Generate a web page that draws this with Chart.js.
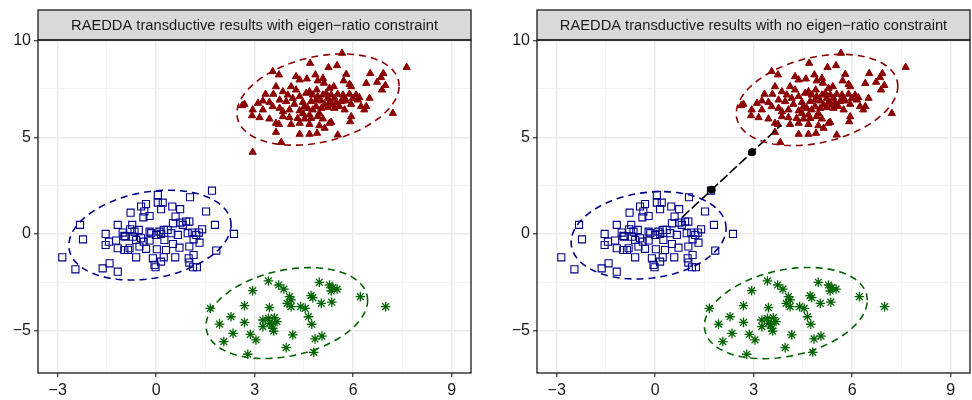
<!DOCTYPE html>
<html>
<head>
<meta charset="utf-8">
<script src="https://cdn.jsdelivr.net/npm/chart.js@4.4.1/dist/chart.umd.min.js"></script>
<style>
  body { margin: 0; background: #fff; }
  #wrap { position: relative; width: 972px; height: 400px; }
  canvas { position: absolute; top: 0; }
</style>
</head>
<body>
<div id="wrap">
  <canvas id="c1" style="left:0" width="486" height="400"></canvas>
  <canvas id="c2" style="left:486px" width="486" height="400"></canvas>
</div>
<script>
// class 1 (red triangles)
const redPts = [[5.66,9.35],[4.69,8.83],[5.25,8.61],[5.51,8.71],[7.63,8.62],[3.55,8.40],[3.74,8.23],[5.79,8.26],[6.52,8.30],[6.92,8.30],[6.85,8.09],[6.73,7.85],[4.37,7.97],[4.59,8.02],[4.85,8.23],[4.92,7.92],[5.11,7.80],[5.71,7.92],[5.89,7.74],[6.40,7.79],[6.98,7.68],[6.88,7.45],[3.65,7.62],[4.11,7.62],[4.26,7.45],[4.67,7.36],[4.89,7.45],[5.28,7.54],[5.41,7.62],[5.94,7.62],[3.33,7.23],[3.57,7.23],[3.86,7.36],[4.01,7.19],[4.37,7.11],[4.57,7.28],[4.77,7.19],[5.08,7.19],[5.18,7.28],[5.33,7.19],[5.53,7.23],[5.69,7.19],[5.89,7.23],[6.09,7.19],[6.19,7.05],[6.50,7.02],[2.69,6.71],[2.62,6.64],[3.10,6.76],[3.45,6.81],[3.76,6.93],[3.96,6.85],[4.21,6.71],[4.47,6.81],[4.72,6.85],[4.87,6.93],[5.03,6.88],[5.28,6.81],[5.48,6.76],[5.63,6.85],[5.79,6.88],[5.94,6.71],[6.24,6.59],[6.40,6.59],[2.94,6.42],[3.25,6.42],[3.76,6.50],[4.06,6.42],[4.37,6.37],[4.62,6.50],[4.77,6.42],[5.03,6.50],[5.23,6.54],[5.43,6.50],[5.74,6.42],[7.21,6.24],[2.92,6.12],[3.15,6.02],[3.45,5.95],[3.86,6.07],[4.06,6.02],[4.31,5.98],[4.52,5.95],[4.72,5.98],[4.92,6.07],[5.08,5.95],[5.33,5.78],[5.94,6.07],[5.91,5.81],[3.65,5.73],[3.74,5.67],[4.11,5.67],[4.37,5.73],[4.67,5.67],[4.97,5.60],[5.13,5.47],[5.28,5.73],[3.65,5.26],[4.37,5.16],[4.67,5.16],[4.90,5.21],[5.53,5.12],[3.81,4.74],[2.94,4.23],[4.92,7.11],[5.23,7.02],[5.43,7.02],[5.74,7.02],[5.99,7.02],[5.13,6.67],[5.38,6.67],[5.58,6.59],[4.87,6.59],[4.52,6.59],[4.16,7.02],[3.55,6.59],[3.86,6.33],[4.47,6.24],[4.67,6.16],[4.97,6.24],[4.26,8.14],[3.25,6.88],[6.14,6.93],[6.34,6.42],[5.08,8.05]];

// class 2 (blue squares)
const bluePts = [[1.70,2.24],[0.05,2.02],[1.03,1.90],[-0.31,1.55],[-0.46,1.42],[0.05,1.62],[0.20,1.62],[0.49,1.42],[0.73,1.28],[0.15,1.28],[1.52,1.16],[-0.78,1.10],[-0.39,0.86],[-0.20,0.93],[-0.36,1.16],[0.59,0.90],[0.74,0.59],[0.91,0.64],[1.01,0.64],[1.79,0.47],[-1.17,0.47],[-0.73,0.47],[-0.79,0.24],[-0.53,0.21],[-1.02,0.07],[-0.20,0.12],[0.35,0.21],[0.23,0.21],[0.10,0.12],[0.51,0.55],[0.81,0.47],[1.40,0.24],[1.30,0.07],[1.10,0.07],[2.37,0.00],[-2.32,0.47],[-1.54,0.00],[-1.44,-0.40],[-2.23,-0.28],[-1.54,-0.57],[-1.22,-0.34],[-0.97,-0.10],[-0.71,-0.14],[-0.61,-0.31],[-0.46,-0.22],[-0.38,-0.40],[-0.20,-0.34],[0.00,-0.05],[0.15,0.00],[0.46,0.04],[0.66,-0.05],[0.96,0.04],[1.14,-0.28],[1.32,-0.45],[1.22,-0.05],[-1.17,-0.74],[-0.97,-0.83],[-0.86,-0.83],[-0.81,-0.74],[-0.51,-0.65],[-0.31,-0.77],[0.02,-0.79],[0.30,-0.83],[0.51,-0.52],[0.71,-0.71],[1.01,-0.65],[1.83,-0.86],[-0.61,-1.21],[-0.10,-1.26],[0.23,-1.21],[0.58,-1.21],[0.99,-1.26],[1.14,-1.09],[-2.86,-1.21],[-1.42,-1.52],[-1.63,-1.78],[-1.17,-1.95],[-2.46,-1.83],[-0.05,-1.60],[0.15,-1.43],[1.01,-1.48],[1.12,-1.72],[1.24,-1.72],[-0.02,-1.72],[-0.94,-0.14],[-0.15,0.04],[0.25,-0.31],[-0.66,0.12]];

// class 3 (green asterisks)
const greenPts = [[3.42,-2.43],[3.73,-2.64],[3.89,-2.85],[2.94,-2.93],[4.97,-2.50],[5.28,-2.64],[5.33,-2.95],[5.51,-2.85],[5.38,-2.78],[6.22,-3.24],[6.99,-3.76],[4.72,-3.19],[4.77,-3.29],[4.06,-3.24],[4.11,-3.41],[3.99,-3.59],[4.11,-3.76],[4.40,-3.76],[4.54,-3.85],[4.64,-4.28],[4.74,-4.67],[5.03,-3.59],[5.35,-3.53],[3.45,-3.81],[2.69,-3.71],[1.65,-3.85],[2.28,-4.28],[2.69,-4.57],[3.25,-4.45],[3.60,-4.33],[3.68,-4.53],[3.45,-4.62],[3.25,-4.79],[3.55,-4.88],[3.58,-5.02],[1.93,-4.66],[2.34,-5.14],[2.87,-5.19],[3.04,-5.48],[2.06,-5.57],[4.16,-5.22],[4.84,-5.43],[5.05,-5.28],[2.79,-6.22],[3.96,-5.88],[4.80,-6.12],[3.42,-4.36],[3.52,-4.67]];

// fitted ellipses: centre, sd x, sd y, correlation
const ellipsesLeft = [
  { cls: 'red',   cx: 4.93,  cy: 6.95,  sx: 2.47, sy: 2.36, r: 0.30 },
  { cls: 'blue',  cx: -0.19, cy: -0.06, sx: 2.47, sy: 2.32, r: 0.23 },
  { cls: 'green', cx: 3.98,  cy: -4.09, sx: 2.46, sy: 2.35, r: 0.28 }
];
const ellipsesRight = [
  { cls: 'red',   cx: 4.93,  cy: 6.93,  sx: 2.46, sy: 2.36, r: 0.30 },
  { cls: 'blue',  cx: -0.20, cy: -0.07, sx: 2.36, sy: 2.26, r: 0.16 },
  { cls: 'green', cx: 3.98,  cy: -4.09, sx: 2.48, sy: 2.36, r: 0.28 }
];

// path between classes in the unconstrained fit
const pathPts = [[0.82,0.86],[1.72,2.28],[2.95,4.23],[3.84,5.64]];

const xTicks = [-3, -1.5, 0, 1.5, 3, 4.5, 6, 7.5, 9];
const yTicks = [-5, -2.5, 0, 2.5, 5, 7.5, 10];
const titles = [
  'RAEDDA transductive results with eigen\u2212ratio constraint',
  'RAEDDA transductive results with no eigen\u2212ratio constraint'
];

const colors = { red: '#8B0000', blue: '#00008B', green: '#006400' };
const FONT = '"Liberation Sans", Arial, sans-serif';

function toXY(arr) { return arr.map(p => ({ x: p[0], y: p[1] })); }

function ellipsePath(e) {
  const out = [];
  const n = 120;
  const k = Math.sqrt(1 - e.r * e.r);
  for (let i = 0; i <= n; i++) {
    const t = 2 * Math.PI * i / n;
    out.push({ x: e.cx + e.sx * Math.cos(t), y: e.cy + e.sy * (e.r * Math.cos(t) + k * Math.sin(t)) });
  }
  return out;
}

const isMajor = (v, step) => Math.abs(v / step - Math.round(v / step)) < 1e-6;
const fmt = v => String(v).replace('-', '\u2212');

const panelDeco = {
  id: 'panelDeco',
  afterDraw(chart, args, opts) {
    const { ctx, chartArea: a } = chart;
    ctx.save();
    ctx.fillStyle = '#D9D9D9';
    ctx.fillRect(a.left, 10, a.right - a.left, a.top - 10);
    ctx.strokeStyle = '#1a1a1a';
    ctx.lineWidth = 1.3;
    ctx.strokeRect(a.left, 10, a.right - a.left, a.top - 10);
    ctx.strokeRect(a.left, a.top, a.right - a.left, a.bottom - a.top);
    ctx.fillStyle = '#1a1a1a';
    ctx.font = '14.7px ' + FONT;
    ctx.textAlign = 'center';
    ctx.textBaseline = 'middle';
    ctx.fillText(opts.title, (a.left + a.right) / 2, (10 + a.top) / 2 + 1);
    ctx.restore();
  }
};

function buildChart(id, title, ellipses, withPath, yWidth, padRight) {
  const datasets = [];
  ellipses.forEach(e => {
    datasets.push({
      data: ellipsePath(e), showLine: true, pointRadius: 0,
      borderColor: colors[e.cls], borderWidth: 1.6, borderDash: [7, 5], order: 0
    });
  });
  if (withPath) {
    datasets.push({
      data: toXY(pathPts), showLine: true, borderColor: '#000', borderWidth: 1.6,
      borderDash: [10, 3], pointRadius: [0, 4, 4, 0], pointBackgroundColor: '#000',
      pointBorderWidth: 0, order: 0
    });
  }
  datasets.push({
    data: toXY(redPts), pointStyle: 'triangle', pointRadius: 4.2,
    backgroundColor: colors.red, borderColor: colors.red, pointBorderWidth: 1, order: 1
  });
  datasets.push({
    data: toXY(bluePts), pointStyle: 'rect', pointRadius: 5,
    backgroundColor: 'rgba(0,0,0,0)', borderColor: colors.blue, pointBorderWidth: 1.1, order: 1
  });
  datasets.push({
    data: toXY(greenPts), pointStyle: 'star', pointRadius: 4.8,
    backgroundColor: colors.green, borderColor: colors.green, pointBorderWidth: 1.3, order: 1
  });

  return new Chart(document.getElementById(id), {
    type: 'scatter',
    data: { datasets },
    options: {
      responsive: false,
      animation: false,
      events: [],
      layout: { autoPadding: false, padding: { left: 0, right: padRight, top: 40, bottom: 0 } },
      plugins: { legend: { display: false }, tooltip: { enabled: false }, panelDeco: { title } },
      scales: {
        x: {
          type: 'linear', min: -3.60, max: 9.59,
          afterBuildTicks: s => { s.ticks = xTicks.map(v => ({ value: v })); },
          afterFit: s => { s.height = 27; s.paddingLeft = 0; s.paddingRight = 0; },
          border: { display: false },
          grid: {
            color: c => isMajor(c.tick.value, 3) ? '#EBEBEB' : '#F3F3F3',
            lineWidth: c => isMajor(c.tick.value, 3) ? 1.5 : 0.8,
            tickColor: c => isMajor(c.tick.value, 3) ? '#333' : 'rgba(0,0,0,0)',
            tickWidth: 1.2, tickLength: 4
          },
          ticks: {
            autoSkip: false, maxRotation: 0, padding: 4, color: '#1a1a1a',
            font: { family: FONT, size: 16 },
            callback: v => isMajor(v, 3) ? fmt(v) : ''
          }
        },
        y: {
          type: 'linear', min: -7.19, max: 10.03,
          afterBuildTicks: s => { s.ticks = yTicks.map(v => ({ value: v })); },
          afterFit: s => { s.width = yWidth; s.paddingTop = 0; s.paddingBottom = 0; },
          border: { display: false },
          grid: {
            color: c => isMajor(c.tick.value, 5) ? '#EBEBEB' : '#F3F3F3',
            lineWidth: c => isMajor(c.tick.value, 5) ? 1.5 : 0.8,
            tickColor: c => isMajor(c.tick.value, 5) ? '#333' : 'rgba(0,0,0,0)',
            tickWidth: 1.2, tickLength: 4
          },
          ticks: {
            autoSkip: false, padding: 3, color: '#1a1a1a',
            font: { family: FONT, size: 16 },
            callback: v => isMajor(v, 5) ? fmt(v) : ''
          }
        }
      }
    },
    plugins: [panelDeco]
  });
}

buildChart('c1', titles[0], ellipsesLeft, false, 38, 15);
buildChart('c2', titles[1], ellipsesRight, true, 51, 2);
</script>
</body>
</html>
